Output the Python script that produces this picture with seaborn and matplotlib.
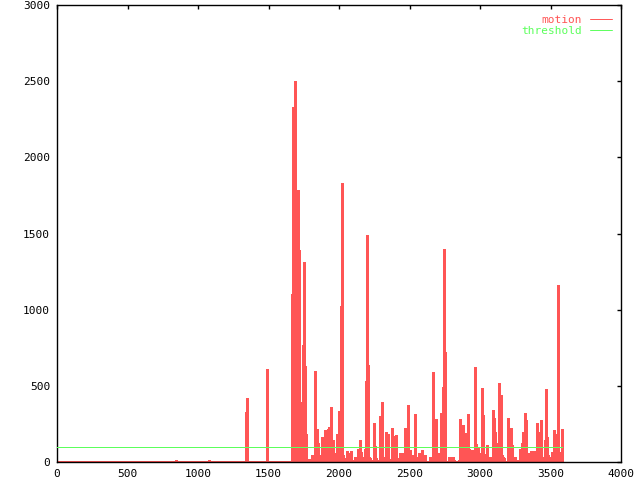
import matplotlib
matplotlib.use("Agg")
import matplotlib.pyplot as plt
import numpy as np
import pandas as pd
import seaborn as sns
from matplotlib.lines import Line2D

# ---------------- data ----------------
frames = [
    844, 1078, 1340, 1348, 1489,
    1667, 1674, 1681, 1688, 1695, 1702, 1709, 1716, 1723, 1730,
    1738, 1745, 1752, 1759, 1766, 1773, 1780, 1787, 1794, 1801,
    1809, 1816, 1823, 1830, 1837, 1844, 1851, 1858, 1865, 1872,
    1879, 1887, 1894, 1901, 1908, 1915, 1922, 1929, 1936, 1943,
    1950, 1957, 1965, 1972, 1979, 1986, 1993, 2000, 2007, 2014,
    2021, 2028, 2035, 2043, 2050, 2057, 2064, 2071, 2078, 2085,
    2092, 2099, 2106, 2113, 2121, 2128, 2135, 2142, 2149, 2156,
    2163, 2170, 2177, 2184, 2191, 2199, 2206, 2213, 2220, 2227,
    2234, 2241, 2248, 2255, 2262, 2270, 2277, 2284, 2291, 2298,
    2305, 2312, 2319, 2326, 2333, 2340, 2348, 2355, 2362, 2369,
    2376, 2383, 2390, 2397, 2404, 2411, 2418, 2426, 2433, 2440,
    2447, 2454, 2461, 2468, 2475, 2482, 2489, 2496, 2504, 2511,
    2518, 2525, 2532, 2539, 2546, 2553, 2560, 2567, 2574, 2582,
    2589, 2596, 2603, 2610, 2617, 2624, 2631, 2638, 2645, 2652,
    2660, 2667, 2674, 2681, 2688, 2695, 2702, 2709, 2716, 2723,
    2730, 2738, 2745, 2752, 2759, 2766, 2773, 2780, 2787, 2794,
    2801, 2809, 2816, 2823, 2830, 2837, 2844, 2851, 2858, 2865,
    2872, 2879, 2887, 2894, 2901, 2908, 2915, 2922, 2929, 2936,
    2943, 2950, 2957, 2965, 2972, 2979, 2986, 2993, 3000, 3007,
    3014, 3021, 3028, 3035, 3043, 3050, 3057, 3064, 3071, 3078,
    3085, 3092, 3099, 3106, 3113, 3121, 3128, 3135, 3142, 3149,
    3156, 3163, 3170, 3177, 3184, 3191, 3199, 3206, 3213, 3220,
    3227, 3234, 3241, 3248, 3255, 3262, 3270, 3277, 3284, 3291,
    3298, 3305, 3312, 3319, 3326, 3333, 3340, 3348, 3355, 3362,
    3369, 3376, 3383, 3390, 3397, 3404, 3411, 3418, 3426, 3433,
    3440, 3447, 3454, 3461, 3468, 3475, 3482, 3489, 3496, 3504,
    3511, 3518, 3525, 3532, 3539, 3546, 3553, 3560, 3567, 3574,
    3582,
]
motion = [
    10, 10, 330, 420, 611,
    1103, 2333, 1503, 2503, 1414, 1210, 1786, 1392, 396, 127,
    35, 768, 1315, 633, 184, 9, 0, 20, 0, 7,
    46, 0, 35, 598, 25, 215, 123, 35, 13, 46,
    167, 9, 20, 210, 112, 200, 215, 232, 117, 364,
    112, 145, 46, 62, 35, 184, 20, 337, 145, 1025,
    1830, 46, 13, 29, 13, 75, 62, 46, 35, 75,
    13, 13, 13, 35, 13, 0, 84, 13, 145, 68,
    13, 35, 0, 84, 534, 1487, 640, 35, 25, 13,
    0, 0, 254, 105, 25, 13, 0, 0, 302, 0,
    396, 13, 35, 31, 200, 123, 184, 20, 13, 0,
    221, 25, 35, 171, 178, 25, 13, 13, 57, 35,
    13, 57, 46, 221, 68, 57, 375, 46, 79, 35,
    29, 46, 35, 316, 35, 20, 13, 57, 25, 31,
    79, 35, 46, 46, 0, 0, 0, 0, 35, 0,
    0, 593, 90, 0, 281, 0, 62, 35, 35, 324,
    35, 495, 1395, 720, 0, 0, 0, 35, 0, 35,
    25, 31, 13, 0, 0, 0, 0, 13, 281, 162,
    79, 243, 123, 189, 25, 40, 316, 84, 35, 20,
    79, 46, 53, 626, 117, 35, 90, 62, 57, 25,
    484, 309, 25, 53, 13, 112, 35, 13, 35, 13,
    13, 342, 287, 200, 35, 123, 46, 521, 46, 440,
    46, 35, 25, 0, 0, 0, 291, 210, 0, 226,
    112, 13, 13, 35, 13, 13, 0, 0, 84, 53,
    127, 200, 40, 320, 276, 46, 46, 57, 13, 75,
    35, 35, 75, 35, 25, 254, 200, 25, 0, 276,
    0, 0, 35, 145, 480, 167, 46, 25, 25, 35,
    68, 25, 210, 184, 105, 90, 1160, 68, 13, 13,
    215,
]
threshold = 100
frame_span = [0, 3585]
x_ticks = [0, 500, 1000, 1500, 2000, 2500, 3000, 3500, 4000]
y_ticks = [0, 500, 1000, 1500, 2000, 2500, 3000]
series_labels = ["motion", "threshold"]

RED = "#ff5555"
GREEN = "#5cff5c"

# ---------------- plot ----------------
sns.set_style("white")
plt.rcParams["font.family"] = ["DejaVu Sans Mono"]

fig = plt.figure(figsize=(6.4, 4.8), dpi=100)
ax = fig.add_axes([57 / 640, 18 / 480, 564 / 640, 457 / 480])

ax.vlines(frames, 0, motion, colors=RED, linewidth=0.75, antialiased=False, zorder=2)
ax.plot(frame_span, [0, 0], color=RED, linewidth=0.75, antialiased=False, zorder=2)

thr_df = pd.DataFrame({"frame": frame_span, "value": [threshold] * len(frame_span)})
sns.lineplot(data=thr_df, x="frame", y="value", color=GREEN, linewidth=0.7,
             antialiased=False, ax=ax, zorder=3)

ax.set_xlim(x_ticks[0], x_ticks[-1])
ax.set_ylim(y_ticks[0], y_ticks[-1])
ax.set_xticks(x_ticks)
ax.set_yticks(y_ticks)
ax.set_xlabel("")
ax.set_ylabel("")
ax.tick_params(direction="in", length=3, width=1.0, top=True, right=True,
               labelsize=8, pad=5, colors="black")
for s in ax.spines.values():
    s.set_visible(True)
    s.set_color("black")
    s.set_linewidth(1.0)

handles = [Line2D([], [], color=RED, linewidth=0.7), Line2D([], [], color=GREEN, linewidth=0.7)]
ax.legend(handles, series_labels, loc="upper right", frameon=False, markerfirst=False,
          fontsize=8, labelcolor=[RED, GREEN], handlelength=2.0, handletextpad=0.7,
          labelspacing=0.05, bbox_to_anchor=(612 / 640, 1 - 15 / 480),
          bbox_transform=fig.transFigure, borderaxespad=0, borderpad=0)

fig.savefig("out.png", dpi=100)
